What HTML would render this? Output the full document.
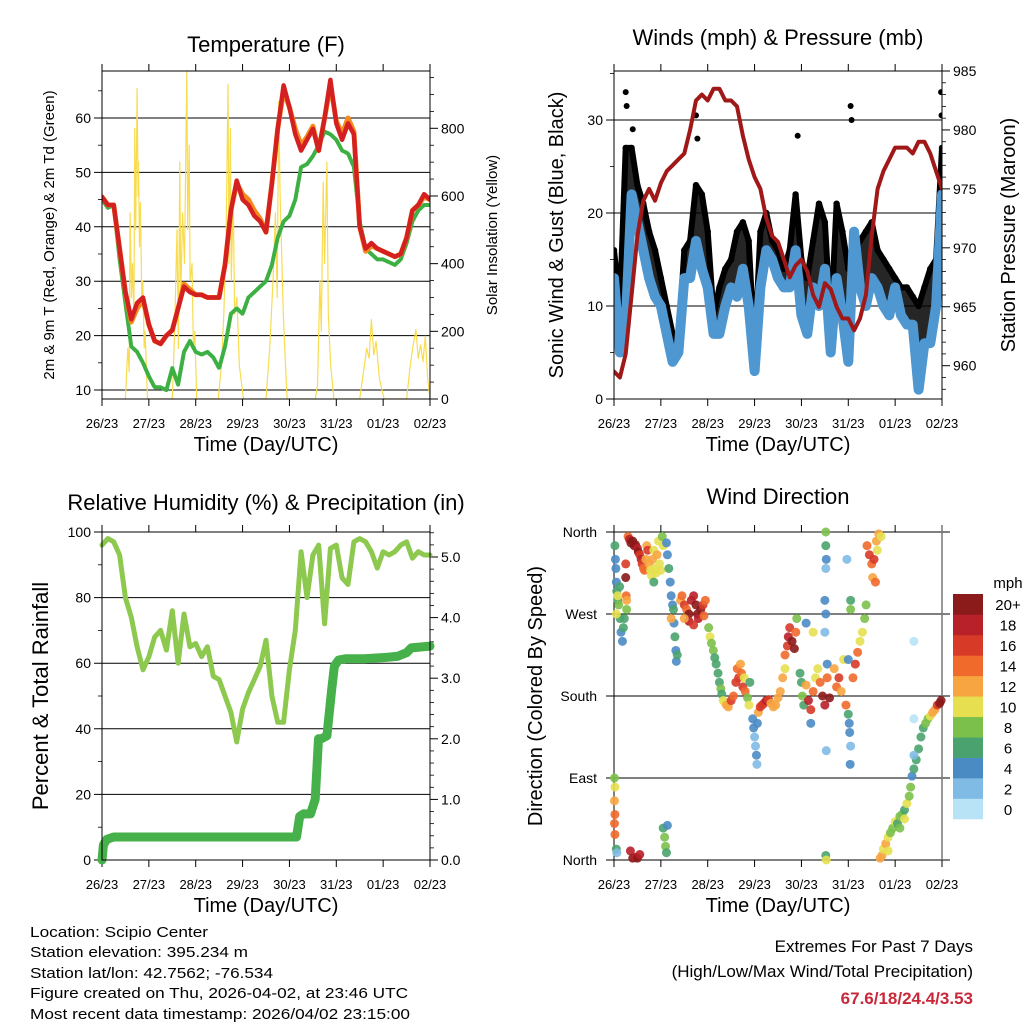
<!DOCTYPE html>
<html><head><meta charset="utf-8">
<style>
html,body{margin:0;padding:0;background:#fff;}
svg{display:block;font-family:"Liberation Sans",Arial,sans-serif;}
</style></head>
<body>
<svg id="s" width="1024" height="1024" viewBox="0 0 1024 1024" xmlns="http://www.w3.org/2000/svg">
<rect width="1024" height="1024" fill="#fff"/>
<g id="p1"></g>
<g id="p2"></g>
<g id="p3"></g>
<g id="p4"></g>
<g font-size="15" fill="#000">
<text x="30" y="937" textLength="178" lengthAdjust="spacingAndGlyphs">Location: Scipio Center</text>
<text x="30" y="957" textLength="218" lengthAdjust="spacingAndGlyphs">Station elevation: 395.234 m</text>
<text x="30" y="978" textLength="243" lengthAdjust="spacingAndGlyphs">Station lat/lon: 42.7562; -76.534</text>
<text x="30" y="998" textLength="378" lengthAdjust="spacingAndGlyphs">Figure created on Thu, 2026-04-02, at 23:46 UTC</text>
<text x="30" y="1019" textLength="380" lengthAdjust="spacingAndGlyphs">Most recent data timestamp: 2026/04/02 23:15:00</text>
</g>
<g text-anchor="end">
<text x="973" y="952" font-size="17">Extremes For Past 7 Days</text>
<text x="973" y="977" font-size="17">(High/Low/Max Wind/Total Precipitation)</text>
<text x="973" y="1004" font-size="17" font-weight="bold" fill="#c8283a">67.6/18/24.4/3.53</text>
</g>
</svg>
<script>
const NS="http://www.w3.org/2000/svg";
const dayLabels=["26/23","27/23","28/23","29/23","30/23","31/23","01/23","02/23"];
const t3=[0,0.125,0.25,0.375,0.5,0.625,0.75,0.875,1,1.125,1.25,1.375,1.5,1.625,1.75,1.875,2,2.125,2.25,2.375,2.5,2.625,2.75,2.875,3,3.125,3.25,3.375,3.5,3.625,3.75,3.875,4,4.125,4.25,4.375,4.5,4.625,4.75,4.875,5,5.125,5.25,5.375,5.5,5.625,5.75,5.875,6,6.125,6.25,6.375,6.5,6.625,6.75,6.875,7];
const temp2m=[45.5,44,44,36,28,23,26,27,22,19,18.5,20,21,25,29,28,27.5,27.5,27,27,27,33,43,48.5,45,44,42,41,39,48,58,66,62,57,54,56,58,54,60,67,59,56,59,57,40,36,37,36,35.5,35,34.5,35,38,43,44,46,45];
const temp9m=[45.5,44,44,36,28,22.5,25,26.5,22,19,18.5,20,21,25,29.5,28.5,27.5,27.5,27,27,27,33,43,48,46,45,43,41.5,39,48,58,65,62,58,55,56.5,58.5,54,60,66,59.5,57,60,57.5,40,35.5,36.5,36,35.5,35,34.5,35,38,43,44,45.5,45];
const dewpt=[45,43.5,44,34,26,18,17,15,12.5,10.5,10.5,10,14,11,17,19,17,16.5,17,16,14,18,24,25,24,27,28,29,30,33,38,41,42,45,51,51.5,53,55,57.5,57,56,54,53.5,51,41,36,35,34,34,33.5,33,34,37,41,43,44,44];
const solarT=[0.5,0.55,0.58,0.6,0.63,0.65,0.68,0.7,0.72,0.75,0.77,0.78,0.8,0.82,0.85,0.87,0.9,0.92,0.97,1.5,1.55,1.6,1.63,1.66,1.68,1.72,1.76,1.81,1.83,1.86,1.88,1.92,1.95,1.98,2.02,2.48,2.55,2.6,2.65,2.69,2.71,2.74,2.76,2.8,2.83,2.88,2.93,3.02,3.5,3.58,3.65,3.7,3.74,3.77,3.8,3.83,3.87,3.91,3.95,4.55,4.6,4.65,4.68,4.72,4.75,4.8,4.83,4.88,4.95,5.5,5.58,5.65,5.7,5.75,5.8,5.85,5.92,6.02,6.5,6.58,6.63,6.7,6.75,6.8,6.85,6.9,6.95,7];
const solarV=[0,150,80,550,300,400,250,800,500,918,600,700,450,580,300,350,150,200,0,0,200,500,150,700,300,550,400,968,500,750,350,400,150,200,0,0,100,250,500,930,400,800,350,600,250,300,100,0,0,150,350,550,300,880,600,450,250,120,0,0,40,350,200,640,400,700,250,100,0,0,80,150,120,235,130,170,60,0,0,100,150,205,120,160,110,185,60,0];
const windMean=[13,5,8,22,19,16,13,11,10,7,4,5,13,13,17,14,12,7,7,10,12,11,14,10,3,12,16,15,13,12,12,16,9,7,12,10,14,5,13,9,4,18,12,10,13,12,10,9,12,9,8,8,1,6,6,10,22];
const windGust=[16,10,27,27,23,21,18,16,13,10,7,6,16,17,23,22,18,9,12,14,15,18,19,17,5,18,20,17,16,14,16,22,15,13,17,21,19,8,21,18,14,16,17,18,19,16,15,14,13,12,12,11,10,12,14,15,27];
const gustPeakT=[0.25,0.27,0.4,1.75,1.78,3.92,5.05,5.07,6.98,6.99];
const gustPeakV=[33,31.5,29,30.5,28,28.3,31.5,30,33,30.5];
const pressure=[959.5,959,961,966,971,974,975,974,975.5,976.5,977,977.5,978,980,982.5,983,982.5,983.5,983.5,982.5,982.5,982,979.5,977.5,976,975,972.5,971,970.5,969,967.5,968.5,969,968,966,965,967,966.5,965,964,964,963,964,966,971,975,976.5,977.5,978.5,978.5,978.5,978,979,979,978,976.5,975];
const rh=[96,98,97,93,80,74,65,58,62,68,70,64,76,60,75,65,66,62,65,56,55,50,45,36,46,51,55,59,67,50,42,42,58,70,94,80,93,96,72,95,96,86,84,97,98,97,94,89,94,93,94,96,97,92,94,93,93];
const precipT=[0,0.03,0.1,0.25,1,2,3,4,4.15,4.22,4.3,4.45,4.55,4.62,4.68,4.8,4.9,4.96,5.05,5.2,5.6,6,6.3,6.5,6.6,7];
const precipV=[0,0.25,0.34,0.38,0.38,0.38,0.38,0.38,0.38,0.72,0.76,0.76,1.0,2.0,2.0,2.05,2.8,3.2,3.3,3.32,3.32,3.34,3.36,3.42,3.5,3.53];
const dirT=[0.02,0.03,0.04,0.05,0.06,0.08,0.1,0.12,0.13,0.15,0.18,0.2,0.22,0.25,0.25,0.26,0.27,0.27,0.05,0.08,0.01,0.02,0.01,0.02,0.01,0.02,0.05,0.06,0.35,0.4,0.45,0.5,0.55,
0.3,0.33,0.36,0.4,0.43,0.46,0.5,0.52,0.55,0.58,0.6,0.63,0.65,0.68,0.7,0.72,0.75,0.78,0.8,0.82,0.85,0.87,0.9,0.92,0.95,0.97,1.0,1.03,1.05,0.85,
1.12,1.14,1.17,1.2,1.22,1.25,1.27,1.28,1.3,1.32,1.33,1.35,1.22,1.05,1.08,1.1,1.12,1.14,
1.42,1.45,1.5,1.55,1.6,1.65,1.7,1.75,1.78,1.8,1.85,1.9,1.92,1.95,1.6,1.7,1.5,
2.02,2.05,2.08,2.12,2.15,2.18,2.22,2.25,2.28,2.3,2.33,2.36,2.4,2.44,
2.5,2.55,2.6,2.63,2.66,2.7,2.72,2.75,2.78,2.8,2.85,2.88,2.9,
2.96,2.98,3.0,3.02,3.04,3.05,3.06,
3.08,3.12,3.16,3.2,3.25,3.3,3.35,3.4,3.45,3.5,3.55,3.6,3.65,
3.65,3.7,3.72,3.75,3.8,3.85,3.88,3.9,
3.97,4.0,4.02,4.05,4.1,4.15,4.2,4.25,4.3,4.35,4.4,4.45,4.5,4.55,4.6,4.1,4.25,4.2,
4.52,4.52,4.53,4.52,4.5,4.52,4.5,4.55,4.53,4.52,4.53,4.97,
4.7,4.75,4.8,4.85,4.9,4.95,5.0,5.02,5.03,5.05,5.04,5.05,5.05,5.1,5.15,5.2,5.25,5.3,5.35,5.38,5.0,
5.4,5.45,5.5,5.52,5.55,5.6,5.65,5.7,5.58,5.62,
5.68,5.72,5.75,5.8,5.85,5.9,5.95,6.0,6.05,6.1,6.15,6.2,6.25,6.3,6.33,6.36,6.4,6.45,6.5,6.55,6.6,6.65,6.7,6.75,6.8,6.85,6.9,6.95,6.98,6.4,6.4,6.4,5.85,6.1,6.2];
const dirDeg=[345,330,320,305,295,285,280,300,265,250,240,255,265,325,310,290,285,275,270,290,90,80,65,50,40,28,12,8,10,2,3,2,6,
355,352,348,350,345,346,342,338,335,330,325,320,318,330,345,340,325,318,312,330,340,320,315,335,350,325,318,355,345,305,
348,335,320,305,290,280,275,260,245,230,218,225,265,35,25,15,8,38,
285,290,280,275,270,285,290,280,270,265,275,280,268,285,262,258,265,
255,245,238,230,222,215,205,195,188,182,175,173,170,168,
175,180,195,210,200,215,205,190,200,185,178,170,195,
155,145,135,125,115,105,150,
162,168,170,172,175,176,172,168,170,178,185,200,210,
225,235,245,255,240,232,250,265,
205,195,180,170,192,175,165,185,200,210,195,180,170,200,178,260,250,150,
360,345,330,320,285,270,250,215,120,5,0,330,
210,190,200,185,220,170,160,150,140,125,105,285,275,200,215,228,240,250,265,280,220,
345,335,325,310,330,350,358,355,305,340,
2,5,12,18,25,30,35,42,40,48,50,55,62,70,80,92,100,110,122,135,145,150,155,158,162,165,170,172,175,240,155,115,10,35,45];
const dirSpd=[6,4,5,4,7,6,8,7,6,4,4,6,6,16,20,14,12,8,10,10,8,10,12,14,14,14,6,2,18,20,18,20,18,
14,18,20,20,20,20,18,20,16,18,16,14,14,12,12,16,12,10,10,12,10,10,10,12,10,10,10,8,10,6,
4,4,6,4,4,4,6,4,6,4,4,6,12,6,8,8,6,4,
12,14,16,14,20,18,18,20,20,18,20,16,14,14,18,16,12,
8,10,8,8,6,6,6,6,8,6,10,10,12,12,
16,14,16,14,16,12,14,16,10,14,8,10,6,
4,4,2,2,4,2,4,
12,16,16,16,18,16,12,12,12,12,12,12,10,
14,16,18,16,20,20,14,8,
6,6,8,6,12,18,16,14,10,10,14,20,18,14,20,4,10,4,
8,6,4,2,4,4,2,4,2,6,10,2,
12,14,16,12,10,14,6,4,4,2,4,6,8,14,16,14,10,10,8,8,4,
14,16,14,12,16,12,12,10,14,10,
12,12,10,12,10,8,8,10,6,8,8,6,10,8,8,4,6,6,6,6,6,8,8,10,12,12,16,20,20,0,0,2,10,8,10];
const binColors=["#b8e3f7","#7fbbe5","#4a8bc4","#4aa36e","#7cc04c","#e6e050","#f7a541","#f06a2c","#d73a27","#b8202a","#8b1a1a"];
const binLabels=["0","2","4","6","8","10","12","14","16","18","20+"];

function el(tag,attrs,parent){const e=document.createElementNS(NS,tag);for(const k in attrs)e.setAttribute(k,attrs[k]);parent.appendChild(e);return e;}
function txt(parent,x,y,s,size,anchor,extra){const e=el("text",Object.assign({x:x,y:y,"font-size":size,"text-anchor":anchor||"middle"},extra||{}),parent);e.textContent=s;return e;}

const X0L=102,X1L=430,X0R=614,X1R=942;
function xs(x0){return t=>x0+t/7*(328);}
function lin(v0,v1,p0,p1){return v=>p0+(v-v0)/(v1-v0)*(p1-p0);}

function frame(g,x0,top,bot,title,titleY){
  const xf=xs(x0);
  const tt=txt(g,x0+164,titleY,title,22);
  
  
  for(let d=0;d<=7;d++){
    const x=xf(d);
    const a=el("line",{x1:x,y1:top-7,x2:x,y2:top,stroke:"#000","stroke-width":1},g);
    
    
    const b=el("line",{x1:x,y1:bot,x2:x,y2:bot+7,stroke:"#000","stroke-width":1},g);
    
    
    const l=txt(g,x,bot+29,dayLabels[d],13);
    
    
  }
  const xt=txt(g,x0+164,bot+52,"Time (Day/UTC)",20);
  
  
}
function box(g,x0,top,bot){
  const r=el("rect",{x:x0,y:top,width:328,height:bot-top,fill:"none",stroke:"#000","stroke-width":1},g);
  
  
}
function leftAxis(g,x0,vals,ys,labels,minor,fontSize){
  vals.forEach((v,i)=>{
    const y=ys(v);
    const gl=el("line",{x1:x0-8,y1:y,x2:x0+328,y2:y,stroke:"#000","stroke-width":1},g);
    
    
    const l=txt(g,x0-11,y+5,labels[i],fontSize||14,"end");
    
    
  });
  minor.forEach(v=>{const y=ys(v);
    const m=el("line",{x1:x0-4,y1:y,x2:x0,y2:y,stroke:"#000","stroke-width":0.8},g);
    
    });
}
function rightAxis(g,x1,vals,ys,labels,minor){
  vals.forEach((v,i)=>{const y=ys(v);
    const t=el("line",{x1:x1,y1:y,x2:x1+8,y2:y,stroke:"#000","stroke-width":1},g);
    
    
    const l=txt(g,x1+11,y+5,labels[i],14,"start");
    
    });
  minor.forEach(v=>{const y=ys(v);
    const m=el("line",{x1:x1,y1:y,x2:x1+4,y2:y,stroke:"#000","stroke-width":0.8},g);
    
    });
}
function path(g,T,V,xf,yf,color,w){
  const d=T.map((t,i)=>(i?"L":"M")+xf(t).toFixed(1)+","+yf(V[i]).toFixed(1)).join("");
  return el("path",{d:d,fill:"none",stroke:color,"stroke-width":w,"stroke-linejoin":"round","stroke-linecap":"round"},g);
}
function vlabel(g,x,y,s,size){const e=txt(g,x,y,s,size,"middle",{transform:`rotate(-90 ${x} ${y})`});return e;}

/* Panel 1 */
(function(){
  const g=document.getElementById("p1"),top=71,bot=399;
  const xf=xs(X0L),yf=lin(10,60,390,118),ys=lin(0,800,399,128.3);
  const cp=el("clipPath",{id:"c1"},g);el("rect",{x:X0L,y:top,width:328,height:bot-top},cp);
  frame(g,X0L,top,bot,"Temperature (F)",52);
  leftAxis(g,X0L,[10,20,30,40,50,60],yf,["10","20","30","40","50","60"],[15,25,35,45,55,65]);
  const mn=[];for(let v=50;v<=950;v+=50){if(v%200)mn.push(v);}
  rightAxis(g,X1L,[0,200,400,600,800],ys,["0","200","400","600","800"],mn);
  const d=el("g",{"clip-path":"url(#c1)"},g);
  const s=path(d,solarT,solarV,xf,ys,"#f8dc50",1.2);
  
  
  const gd=path(d,t3,dewpt,xf,yf,"#3cb043",4);
  
  
  gd.setAttribute('stroke-dasharray','3 1.5');
  const o=path(d,t3,temp9m,xf,yf,"#f58b1f",5);
  
  
  const r=path(d,t3,temp2m,xf,yf,"#d42020",4.5);
  
  
  box(g,X0L,top,bot);
  const a=vlabel(g,54,235,"2m & 9m T (Red, Orange) & 2m Td (Green)",15);
  
  
  const b=vlabel(g,497,235,"Solar Insolation (Yellow)",15);
  
  
})();

/* Panel 2 */
(function(){
  const g=document.getElementById("p2"),top=71,bot=399;
  const xf=xs(X0R),yf=lin(0,30,399,120),yp=lin(960,985,365.7,71);
  const cp=el("clipPath",{id:"c2"},g);el("rect",{x:X0R,y:top-2,width:328,height:bot-top+4},cp);
  frame(g,X0R,top,bot,"Winds (mph) & Pressure (mb)",45);
  leftAxis(g,X0R,[0,10,20,30],yf,["0","10","20","30"],[5,15,25,35]);
  const mn=[];for(let v=958;v<=985;v+=1){if(v%5)mn.push(v);}
  rightAxis(g,X1R,[960,965,970,975,980,985],yp,["960","965","970","975","980","985"],mn);
  const d=el("g",{"clip-path":"url(#c2)"},g);
  let ad="";
  t3.forEach((t,i)=>{ad+=(i?"L":"M")+xf(t).toFixed(1)+","+yf(windGust[i]).toFixed(1);});
  for(let i=t3.length-1;i>=0;i--){ad+="L"+xf(t3[i]).toFixed(1)+","+yf(windMean[i]).toFixed(1);}
  const area=el("path",{d:ad+"Z",fill:"#000","fill-opacity":0.85,stroke:"#000","stroke-width":6,"stroke-linejoin":"round"},d);
  
  
  windGust.forEach((v,i)=>{
    const c=el("circle",{cx:xf(t3[i]),cy:yf(v),r:3.2,fill:"#000"},d);
    
    
  });
  gustPeakT.forEach((t,i)=>{
    const c=el("circle",{cx:xf(t),cy:yf(gustPeakV[i]),r:3,fill:"#000"},d);
    
    
  });
  const bl=path(d,t3,windMean,xf,yf,"#4f97d1",10);
  
  
  const p=path(d,t3,pressure,xf,yp,"#a01818",4);
  
  
  box(g,X0R,top,bot);
  const a=vlabel(g,563,235,"Sonic Wind & Gust (Blue, Black)",20);
  
  
  const b=vlabel(g,1015,235,"Station Pressure (Maroon)",20);
  
  
})();

/* Panel 3 */
(function(){
  const g=document.getElementById("p3"),top=532,bot=860;
  const xf=xs(X0L),yf=lin(0,100,860,532),yr=lin(0,5,860,557);
  const cp=el("clipPath",{id:"c3"},g);el("rect",{x:X0L-6,y:top,width:340,height:bot-top+6},cp);
  frame(g,X0L,top,bot,"Relative Humidity (%) & Precipitation (in)",510);
  leftAxis(g,X0L,[0,20,40,60,80,100],yf,["0","20","40","60","80","100"],[10,30,50,70,90]);
  const mn=[];for(let v=0.2;v<5.45;v+=0.2){const r=Math.round(v*10)/10;if(Math.abs(r-Math.round(r))>0.01)mn.push(r);}
  rightAxis(g,X1L,[0,1,2,3,4,5],yr,["0.0","1.0","2.0","3.0","4.0","5.0"],mn);
  const d=el("g",{"clip-path":"url(#c3)"},g);
  const h=path(d,t3,rh,xf,yf,"#8dc94e",5);
  
  
  const p=path(d,precipT,precipV,xf,yr,"#46b04a",9);
  
  
  box(g,X0L,top,bot);
  const a=vlabel(g,48,696,"Percent & Total Rainfall",22);
  
  
})();

/* Panel 4 */
(function(){
  const g=document.getElementById("p4"),top=532,bot=860;
  const xf=xs(X0R),yd=lin(0,360,860,532);
  frame(g,X0R,top,bot,"Wind Direction",504);
  const names=["North","East","South","West","North"];
  [0,90,180,270,360].forEach((v,i)=>{
    const y=yd(v);
    const gl=el("line",{x1:X0R-8,y1:y,x2:950,y2:y,stroke:"#000","stroke-width":1},g);
    
    
    const l=txt(g,X0R-17,y+5,names[i],14,"end");
    
    
  });
  const lb=el("line",{x1:X0R,y1:top-7,x2:X0R,y2:bot,stroke:"#000","stroke-width":1},g);
  
  
  const rb=el("line",{x1:X1R,y1:top-7,x2:X1R,y2:bot,stroke:"#777","stroke-width":1.5},g);
  
  
  const d=el("g",{},g);
  dirT.forEach((t,i)=>{
    const bin=Math.min(10,Math.floor(dirSpd[i]/2));
    const c=el("circle",{cx:xf(t),cy:yd(dirDeg[i]),r:4.5,fill:binColors[bin],"fill-opacity":0.9},d);
    
    
  });
  const a=vlabel(g,542,696,"Direction (Colored By Speed)",20);
  
  
  const cb=el("g",{},g);
  
  
  const h=(819-594)/11;
  binColors.forEach((c,i)=>{
    const y=819-(i+1)*h;
    const r=el("rect",{x:953,y:y,width:30,height:h+0.3,fill:c},cb);
    
    
    const l=txt(cb,1008,y+h/2+6,binLabels[i],15);
    
    
  });
  const u=txt(cb,1008,588,"mph",15);
  
  
})();
</script>
</body></html>
